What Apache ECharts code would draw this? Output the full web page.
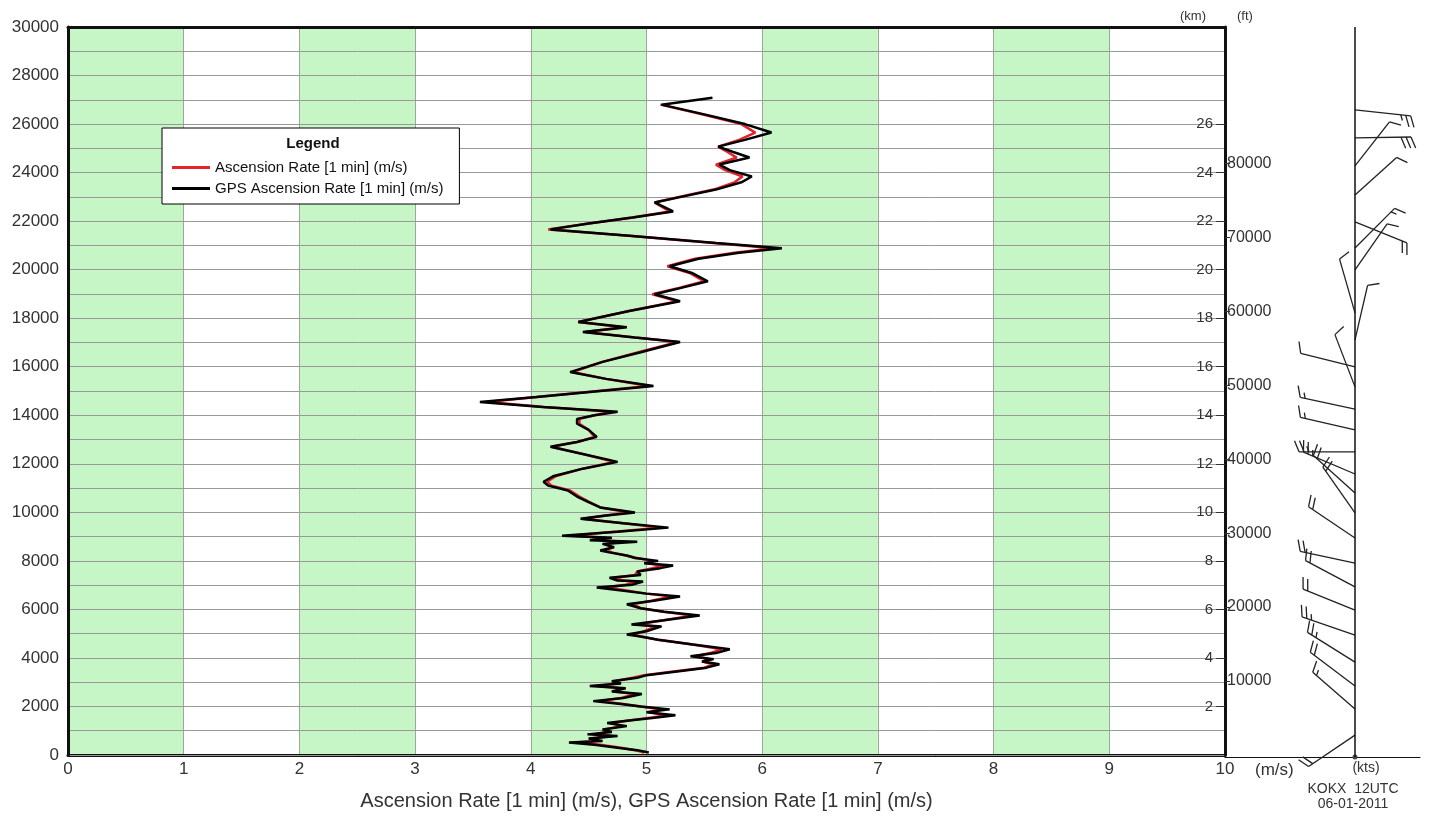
<!DOCTYPE html>
<html>
<head>
<meta charset="utf-8">
<script src="https://cdn.jsdelivr.net/npm/echarts@6/dist/echarts.min.js"></script>
<style>
html,body{margin:0;padding:0;background:#fff;}
#chart{width:1432px;height:816px;}
</style>
</head>
<body>
<div id="chart"></div>
<script>
// ---- data ----
const altitudes = [100,200,300,420,520,580,680,780,850,950,1050,1190,1320,1420,1520,1640,1760,1880,2000,2100,2220,2350,2510,2620,2750,2840,2950,3040,3180,3290,3450,3600,3740,3850,3950,4070,4200,4360,4550,4750,4880,4970,5100,5300,5380,5550,5750,5900,6050,6210,6350,6530,6650,6800,6900,7020,7150,7190,7300,7420,7560,7700,7810,7900,8000,8120,8220,8330,8430,8560,8700,8790,8850,8950,9040,9200,9370,9550,9740,9870,9990,10200,10440,10650,10900,11100,11260,11500,11800,12080,12400,12700,12900,13110,13400,13650,13850,14000,14140,14340,14550,14750,15000,15210,15500,15780,16200,16600,17020,17200,17430,17630,17840,18300,18700,18990,19250,19520,19850,20140,20450,20700,20880,21100,21400,21660,21900,22150,22400,22770,23000,23300,23600,23840,24100,24330,24620,24850,25070,25350,25650,26000,26400,26800,27080];
const gpsRate = [5.02,4.92,4.75,4.55,4.33,4.62,4.50,4.75,4.49,4.70,4.62,4.83,4.66,4.85,5.05,5.25,5.00,5.20,4.95,4.78,4.54,4.80,4.96,4.70,4.82,4.51,4.78,4.70,4.92,5.00,5.28,5.52,5.63,5.48,5.58,5.38,5.60,5.72,5.40,5.10,4.95,4.83,5.00,5.13,4.87,5.15,5.46,5.15,4.95,4.83,5.05,5.29,5.00,4.75,4.57,4.88,4.97,4.75,4.68,4.95,4.92,5.12,5.23,4.98,5.10,4.90,4.83,4.70,4.60,4.72,4.62,4.92,4.51,4.70,4.27,4.75,5.19,4.80,4.43,4.65,4.90,4.60,4.49,4.40,4.32,4.15,4.11,4.20,4.45,4.75,4.45,4.17,4.40,4.57,4.50,4.40,4.40,4.55,4.75,4.10,3.56,4.05,4.60,5.06,4.65,4.34,4.62,4.95,5.29,4.90,4.45,4.83,4.41,4.85,5.29,5.07,5.30,5.53,5.40,5.20,5.45,5.80,6.17,5.60,4.85,4.17,4.50,4.88,5.23,5.07,5.30,5.60,5.82,5.91,5.72,5.63,5.89,5.75,5.62,5.85,6.08,5.85,5.50,5.13,5.57];
const ascRate = [4.98,4.90,4.78,4.60,4.40,4.55,4.52,4.70,4.55,4.65,4.64,4.78,4.70,4.85,5.00,5.18,5.02,5.12,4.95,4.80,4.60,4.78,4.90,4.72,4.78,4.58,4.74,4.72,4.88,4.98,5.25,5.50,5.58,5.48,5.55,5.42,5.55,5.65,5.40,5.10,4.95,4.88,4.98,5.08,4.92,5.15,5.40,5.15,4.95,4.88,5.03,5.22,5.00,4.80,4.65,4.82,4.92,4.80,4.72,4.90,4.92,5.05,5.15,5.00,5.05,4.92,4.82,4.72,4.65,4.70,4.65,4.80,4.60,4.65,4.35,4.72,5.12,4.80,4.45,4.65,4.85,4.60,4.50,4.42,4.34,4.18,4.14,4.22,4.45,4.72,4.45,4.18,4.40,4.55,4.50,4.42,4.42,4.55,4.70,4.12,3.62,4.05,4.58,5.02,4.65,4.36,4.62,4.93,5.27,4.90,4.47,4.80,4.41,4.85,5.27,5.05,5.28,5.50,5.38,5.18,5.42,5.76,6.10,5.58,4.85,4.15,4.50,4.88,5.20,5.07,5.28,5.58,5.76,5.83,5.68,5.60,5.78,5.70,5.62,5.80,5.94,5.82,5.48,5.12,null];

const xTicks = [0,1,2,3,4,5,6,7,8,9,10];
const kmTicks = [2,4,6,8,10,12,14,16,18,20,22,24,26];
const ftTicks = [10000,20000,30000,40000,50000,60000,70000,80000];

// wind barbs: altitude (m), direction (deg, from), speed (kts)
const barbAltitudes = [900,1970,2920,3900,5010,6040,6990,7970,9000,10030,10850,11630,12540,13440,14300,15210,16030,17140,18250,20020,20920,21990,23100,24290,25440,26590];
const barbDirections = [236,311,307,302,289,292,298,282,304,325,312,293,270,283,282,339,284,13,344,35,45,112,48,38,89,96];
const barbSpeeds = [20,15,20,25,25,20,20,20,20,20,20,25,25,15,15,10,10,10,10,10,15,20,10,10,30,25];

const seriesNames = ['Ascension Rate [1 min] (m/s)','GPS Ascension Rate [1 min] (m/s)'];

// ---- chart ----
const FONT = 'Liberation Sans, Arial, sans-serif';
const STAFF_X = 130;
const chart = echarts.init(document.getElementById('chart'), null, {renderer:'canvas'});

const redData = [];
const blackData = [];
altitudes.forEach((a,i)=>{
  if (ascRate[i] != null) redData.push([ascRate[i], a]);
  if (gpsRate[i] != null) blackData.push([gpsRate[i], a]);
});

function renderBarb(params, api){
  const p = api.coord([api.value(0), api.value(1)]);
  const dir = api.value(2)*Math.PI/180;
  const spd = api.value(3);
  const ux = Math.sin(dir), uy = -Math.cos(dir);
  const L = 56;
  const ex = p[0]+ux*L, ey = p[1]+uy*L;
  const st = {stroke:'#222', lineWidth:1.3};
  const children = [{type:'line', shape:{x1:p[0],y1:p[1],x2:ex,y2:ey}, style:st}];
  const px = -uy, py = ux;
  const th = 22*Math.PI/180;
  const fx = px*Math.cos(th)+ux*Math.sin(th);
  const fy = py*Math.cos(th)+uy*Math.sin(th);
  const full = Math.floor(spd/10);
  const half = (spd%10)>=5;
  const gap = 5;
  let pos = 0;
  for (let i=0;i<full;i++){
    const bx = ex-ux*pos, by = ey-uy*pos;
    children.push({type:'line', shape:{x1:bx,y1:by,x2:bx+fx*12,y2:by+fy*12}, style:st});
    pos += gap;
  }
  if (half){
    if (full===0) pos = gap;
    const bx = ex-ux*pos, by = ey-uy*pos;
    children.push({type:'line', shape:{x1:bx,y1:by,x2:bx+fx*6,y2:by+fy*6}, style:st});
  }
  if (params.dataIndex===0){
    const b = api.coord([api.value(0), 0]);
    children.push({type:'circle', shape:{cx:b[0], cy:b[1], r:2.5}, style:{fill:'#444'}});
  }
  return {type:'group', children};
}

const option = {
  animation:false,
  backgroundColor:'#fff',
  grid:[
    {left:68, right:207, top:27, bottom:59},
    {left:1225, right:12, top:27, bottom:59}
  ],
  legend:{
    data:seriesNames,
    orient:'vertical',
    left:162, top:128,
    backgroundColor:'#fff',
    borderColor:'#000', borderWidth:1,
    padding:[32,16,8,10],
    itemGap:6,
    itemWidth:38, itemHeight:3,
    icon:'rect',
    textStyle:{fontFamily:FONT, fontSize:15, color:'#111'},
    z:10
  },
  xAxis:[
    {
      gridIndex:0, type:'value', min:0, max:10, interval:1, z:0,
      name:'Ascension Rate [1 min] (m/s), GPS Ascension Rate [1 min] (m/s)',
      nameLocation:'middle', nameGap:36,
      nameTextStyle:{fontFamily:FONT, fontSize:20, color:'#333'},
      axisLine:{show:true, onZero:false, lineStyle:{color:'#111', width:3}},
      axisTick:{show:false},
      axisLabel:{fontFamily:FONT, fontSize:17, color:'#333', margin:6},
      splitLine:{show:true, lineStyle:{color:'#9aaa9a', width:1}},
      splitArea:{show:true, areaStyle:{color:['#c6f5c6','#ffffff']}}
    },
    {
      gridIndex:0, type:'value', min:0, max:10, position:'top', z:3,
      axisLine:{show:true, onZero:false, lineStyle:{color:'#111', width:3}},
      axisTick:{show:false}, axisLabel:{show:false}, splitLine:{show:false}
    },
    {
      gridIndex:1, type:'value', min:0, max:195,
      axisLine:{show:true, onZero:false, lineStyle:{color:'#111', width:1}},
      axisTick:{show:false}, axisLabel:{show:false}, splitLine:{show:false}
    }
  ],
  yAxis:[
    {
      gridIndex:0, type:'value', min:0, max:30000, interval:1000, z:1,
      axisLine:{show:true, onZero:false, lineStyle:{color:'#111', width:3}},
      axisTick:{show:false},
      axisLabel:{fontFamily:FONT, fontSize:17, color:'#333', margin:9,
        formatter:v=> (v%2000===0 ? String(v) : '')},
      splitLine:{show:true, lineStyle:{color:'#999', width:1}}
    },
    {
      gridIndex:0, type:'value', min:0, max:30, position:'right', z:3,
      axisLine:{show:true, onZero:false, lineStyle:{color:'#111', width:3}},
      axisTick:{show:true, inside:true, length:9, customValues:kmTicks, lineStyle:{color:'#333', width:1}},
      axisLabel:{show:true, inside:true, margin:12, customValues:kmTicks,
        fontFamily:FONT, fontSize:15, color:'#333'},
      splitLine:{show:false}
    },
    {
      gridIndex:0, type:'value', min:0, max:30000/0.3048, position:'right', z:3,
      axisLine:{show:false, onZero:false},
      axisTick:{show:true, length:5, customValues:ftTicks, lineStyle:{color:'#333', width:1}},
      axisLabel:{show:true, margin:2, customValues:ftTicks,
        fontFamily:FONT, fontSize:16, color:'#333', formatter:v=>String(v)},
      splitLine:{show:false}
    },
    {
      gridIndex:1, type:'value', min:0, max:30000, show:false
    }
  ],
  series:[
    {
      name:seriesNames[0], type:'line', xAxisIndex:0, yAxisIndex:0,
      data:redData, showSymbol:false, symbol:'none',
      lineStyle:{color:'#e3242b', width:2.5}, itemStyle:{color:'#e3242b'}, z:3
    },
    {
      name:seriesNames[1], type:'line', xAxisIndex:0, yAxisIndex:0,
      data:blackData, showSymbol:false, symbol:'none',
      lineStyle:{color:'#000', width:2.5}, itemStyle:{color:'#000'}, z:4
    },
    {
      type:'custom', xAxisIndex:2, yAxisIndex:3,
      data: barbAltitudes.map((a,i)=>[STAFF_X, a, barbDirections[i], barbSpeeds[i]]),
      encode:{x:0, y:1},
      renderItem:renderBarb, clip:false, silent:true,
      markLine:{
        silent:true, symbol:'none', label:{show:false},
        lineStyle:{color:'#111', width:1.5, type:'solid'},
        data:[{xAxis:STAFF_X}]
      }
    }
  ],
  graphic:[
    {type:'text', x:313, y:144, z:100, style:{text:'Legend', font:'bold 15px '+FONT, fill:'#111', textAlign:'center', textVerticalAlign:'middle'}},
    {type:'text', left:1180, top:10, z:100, style:{text:'(km)', font:'13px '+FONT, fill:'#333'}},
    {type:'text', left:1237, top:10, z:100, style:{text:'(ft)', font:'13px '+FONT, fill:'#333'}},
    {type:'text', left:1255, top:762, z:100, style:{text:'(m/s)', font:'17px '+FONT, fill:'#333'}},
    {type:'text', x:1366, y:768, z:100, style:{text:'(kts)', font:'14px '+FONT, fill:'#333', textAlign:'center', textVerticalAlign:'middle'}},
    {type:'text', x:1353, y:789, z:100, style:{text:'KOKX  12UTC', font:'14px '+FONT, fill:'#333', textAlign:'center', textVerticalAlign:'middle'}},
    {type:'text', x:1353, y:804, z:100, style:{text:'06-01-2011', font:'14px '+FONT, fill:'#333', textAlign:'center', textVerticalAlign:'middle'}}
  ]
};
chart.setOption(option);
</script>
</body>
</html>
